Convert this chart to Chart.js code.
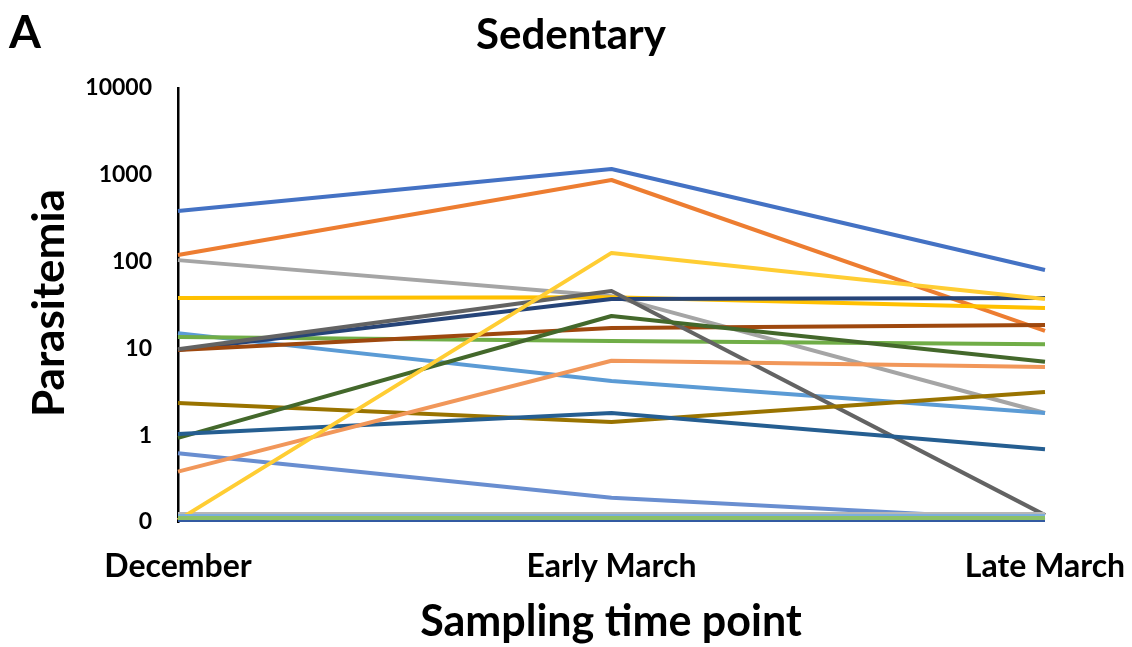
<!DOCTYPE html>
<html>
<head>
<meta charset="utf-8">
<script src="https://cdn.jsdelivr.net/npm/chart.js@4.4.1/dist/chart.umd.min.js"></script>
<style>
  html, body { margin: 0; padding: 0; background: #ffffff; }
  #wrap { width: 1132px; height: 647px; position: relative; }
</style>
</head>
<body>
<div id="wrap"><canvas id="c" width="1132" height="647"></canvas></div>
<script>
// Sampling time points
const timePoints = ['December', 'Early March', 'Late March'];

// Parasitemia per individual (log scale; undetected values sit at the 0.1 floor)
const ind01 = [383, 1166, 80];
const ind02 = [119, 871, 15.9];
const ind03 = [104, 40, 1.8];
const ind04 = [38, 38.9, 29.2];
const ind05 = [15, 4.2, 1.8];
const ind06 = [13.5, 12.2, 11.2];
const ind07 = [9.6, 37, 38];
const ind08 = [9.6, 17.2, 18.6];
const ind09 = [9.8, 45.8, 0.12];
const ind10 = [2.35, 1.42, 3.15];
const ind11 = [0.93, 23.6, 7.0];
const ind12 = [1.03, 1.8, 0.69];
const ind13 = [0.62, 0.19, 0.105];
const ind14 = [0.38, 7.2, 6.1];
const ind15 = [0.124, 0.124, 0.124];
const ind16 = [0.105, 126, 37];
const ind17 = [0.117, 0.117, 0.117];
const ind18 = [0.111, 0.111, 0.111];
const ind19 = [0.1, 0.1, 0.1];

const seriesValues = [ind01, ind02, ind03, ind04, ind05, ind06, ind07, ind08, ind09, ind10,
                      ind11, ind12, ind13, ind14, ind15, ind16, ind17, ind18, ind19];

const seriesColors = ['#4472C4', '#ED7D31', '#A5A5A5', '#FFC000', '#5B9BD5', '#70AD47',
                      '#264478', '#9E480E', '#636363', '#997300', '#43682B', '#255E91',
                      '#698ED0', '#F1975A', '#B7B7B7', '#FFCD33', '#7CAFDD', '#8CC168', '#335AA1'];

// Y axis tick values and their printed labels
const yTickValues = [0.1, 1, 10, 100, 1000, 10000];
const yTickLabels = ['0', '1', '10', '100', '1000', '10000'];

const FONT = 'Lato, "Open Sans", sans-serif';

const datasets = seriesValues.map((vals, i) => ({
  label: 'Individual ' + (i + 1),
  data: vals,
  borderColor: seriesColors[i],
  backgroundColor: seriesColors[i],
  borderWidth: 4,
  pointRadius: 0,
  pointHoverRadius: 0,
  tension: 0,
  fill: false,
  borderJoinStyle: 'round',
  order: seriesValues.length - i   // later series drawn on top
}));

// Panel letter, chart title and axis titles
const textPlugin = {
  id: 'panelText',
  afterDraw(chart) {
    const ctx = chart.ctx;
    ctx.save();
    ctx.fillStyle = '#000';
    ctx.textBaseline = 'middle';

    ctx.textAlign = 'left';
    ctx.font = 'bold 46px ' + FONT;
    ctx.fillText('A', 9, 33);

    ctx.textAlign = 'center';
    ctx.font = 'bold 42px ' + FONT;
    ctx.fillText('Sedentary', 571, 35);

    ctx.font = 'bold 43px ' + FONT;
    ctx.fillText('Sampling time point', 611, 622);

    ctx.translate(50, 303);
    ctx.rotate(-Math.PI / 2);
    ctx.font = 'bold 44px ' + FONT;
    ctx.fillText('Parasitemia', 0, 0);
    ctx.restore();
  }
};

new Chart(document.getElementById('c'), {
  type: 'line',
  data: { labels: timePoints, datasets },
  options: {
    responsive: false,
    animation: false,
    devicePixelRatio: 1,
    layout: { padding: { top: 88, right: 87, left: 0, bottom: 0 } },
    plugins: {
      legend: { display: false },
      tooltip: { enabled: false },
      title: { display: false }
    },
    scales: {
      x: {
        type: 'category',
        offset: false,
        grid: { display: false, drawTicks: false },
        border: { display: false },
        ticks: {
          color: '#000',
          font: { family: FONT, size: 32, weight: 'bold' },
          padding: 25,
          maxRotation: 0,
          autoSkip: false
        },
        afterFit(scale) {
          scale.height = 125;
          scale.paddingLeft = 0;
          scale.paddingRight = 0;
        }
      },
      y: {
        type: 'logarithmic',
        min: 0.1,
        max: 10000,
        grid: { display: false, drawTicks: false },
        border: { display: true, color: '#000', width: 2.5 },
        afterBuildTicks(scale) {
          scale.ticks = yTickValues.map(v => ({ value: v }));
        },
        ticks: {
          color: '#000',
          font: { family: FONT, size: 23, weight: 'bold' },
          padding: 26,
          callback(value) {
            const idx = yTickValues.indexOf(value);
            return idx >= 0 ? yTickLabels[idx] : '';
          }
        },
        afterFit(scale) {
          scale.width = 178;
          scale.paddingTop = 0;
          scale.paddingBottom = 0;
        }
      }
    }
  },
  plugins: [textPlugin]
});
</script>
</body>
</html>
